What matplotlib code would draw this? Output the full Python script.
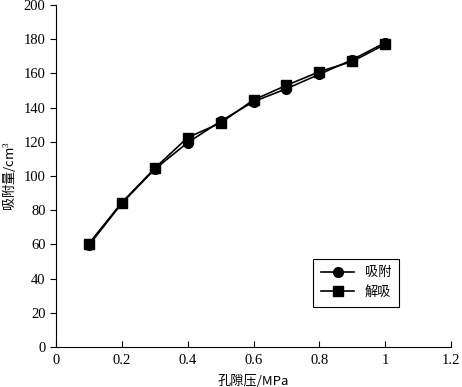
import matplotlib
matplotlib.use("Agg")
import matplotlib.pyplot as plt

pressure = [0.1, 0.2, 0.3, 0.4, 0.5, 0.6, 0.7, 0.8, 0.9, 1.0]
adsorption = [59.5, 84, 104, 119.5, 132, 143.5, 151, 159.5, 168, 178]
desorption = [60.5, 84.5, 104.5, 122.5, 131, 144.5, 153, 161, 167, 177]
xticks = [0, 0.2, 0.4, 0.6, 0.8, 1, 1.2]
xticklabels = ["0", "0.2", "0.4", "0.6", "0.8", "1", "1.2"]
yticks = list(range(0, 201, 20))

plt.rcParams['font.family'] = ['Liberation Serif', 'Noto Sans CJK SC']
plt.rcParams['mathtext.fontset'] = 'custom'
plt.rcParams['mathtext.rm'] = 'Liberation Serif'

fig = plt.figure(figsize=(4.62, 3.87), dpi=100)
ax = fig.add_axes([56/462, 1-347/387, 395/462, 342/387])

ax.plot(pressure, adsorption, color='black', lw=1.2, marker='o', ms=7, label='吸附')
ax.plot(pressure, desorption, color='black', lw=1.2, marker='s', ms=6.5, label='解吸')

ax.set_xlim(0, 1.2)
ax.set_ylim(0, 200)
ax.set_xticks(xticks)
ax.set_xticklabels(xticklabels)
ax.set_yticks(yticks)
for s in ['top', 'right']:
    ax.spines[s].set_visible(False)
for s in ['left', 'bottom']:
    ax.spines[s].set_linewidth(0.8)
ax.tick_params(axis='x', direction='in', length=4, width=0.8, labelsize=10.5, pad=5)
ax.tick_params(axis='y', direction='out', length=4, width=0.8, labelsize=10.5)

ax.set_xlabel('孔隙压/MPa', fontsize=9.5, family=['Noto Sans CJK SC', 'Liberation Serif'], labelpad=6)
ax.set_ylabel('吸附量/cm$^3$', fontsize=9.5, family=['Noto Sans CJK SC', 'Liberation Serif'], labelpad=4)

leg = ax.legend(loc='upper left', bbox_to_anchor=(0.635, 0.278), fancybox=False,
                edgecolor='black', framealpha=1,
                prop={'family': ['Noto Sans CJK SC'], 'size': 9.5},
                handlelength=2.5, borderpad=0.6, labelspacing=0.5)
leg.get_frame().set_linewidth(0.8)

fig.savefig('out.png', dpi=100)
